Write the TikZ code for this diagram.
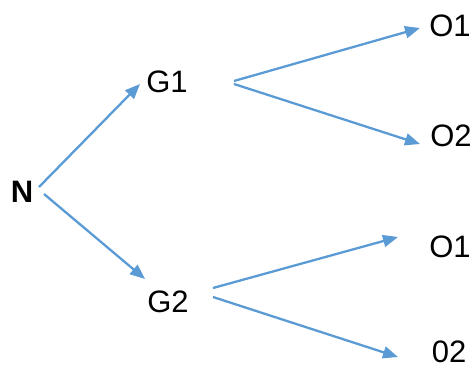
\documentclass[tikz,border=0pt]{standalone}
\usepackage{fontspec}
\setmainfont{Liberation Sans}
\usetikzlibrary{arrows.meta}
\definecolor{lineblue}{HTML}{5B9BD5}
\begin{document}
\begin{tikzpicture}[x=1pt,y=-1pt,
  lbl/.style={inner sep=0pt,font=\fontsize{31}{31}\selectfont},
  arr/.style={draw=lineblue,line width=2.3pt,-{Triangle[length=15pt,width=12pt]}}]
\useasboundingbox (0,0) rectangle (473,369);
\node[lbl,font=\fontsize{31}{31}\selectfont\bfseries] (N) at (22,192) {N};
\node[lbl] (G1) at (167,82) {G1};
\node[lbl] (G2) at (168,302) {G2};
\node[lbl] (O1a) at (450,26) {O1};
\node[lbl] (O2a) at (451,136) {O2};
\node[lbl] (O1b) at (450,247) {O1};
\node[lbl] (O2b) at (449,352) {02};
\draw[arr] ([shift={(17,-5)}]N.center) -- ([shift={(-27,2)}]G1.center);
\draw[arr] ([shift={(22,2)}]N.center) -- ([shift={(-23,-23)}]G2.center);
\draw[arr] ([shift={(67,-1)}]G1.center) -- ([shift={(-30,2)}]O1a.center);
\draw[arr] ([shift={(67,2)}]G1.center) -- ([shift={(-31,8)}]O2a.center);
\draw[arr] ([shift={(45,-14)}]G2.center) -- ([shift={(-52,-10)}]O1b.center);
\draw[arr] ([shift={(45,-5)}]G2.center) -- ([shift={(-51,5)}]O2b.center);
\end{tikzpicture}
\end{document}
